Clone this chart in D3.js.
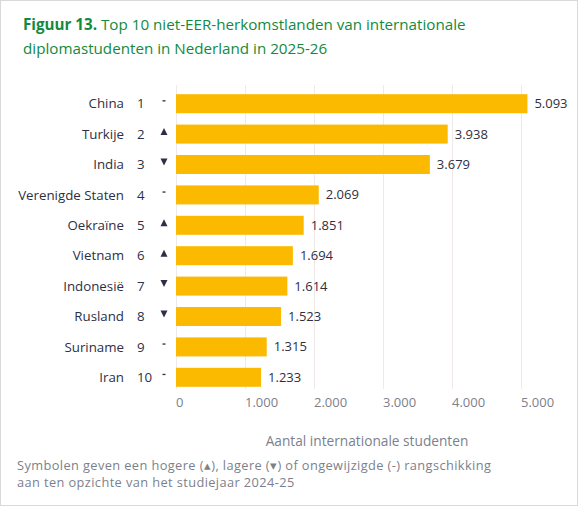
<!DOCTYPE html>
<html>
<head>
<meta charset="utf-8">
<script src="https://cdn.jsdelivr.net/npm/d3@7"></script>
<style>
  body { margin: 0; background: #fff; }
  svg { display: block; font-family: "Open Sans", "Noto Sans", sans-serif; }
</style>
</head>
<body>
<svg id="chart" width="578" height="507"></svg>
<script>
// data
var countries = ["China", "Turkije", "India", "Verenigde Staten", "Oekraïne", "Vietnam", "Indonesië", "Rusland", "Suriname", "Iran"];
var ranks = [1, 2, 3, 4, 5, 6, 7, 8, 9, 10];
var changes = ["-", "up", "down", "-", "up", "up", "down", "down", "-", "-"];
var students = [5093, 3938, 3679, 2069, 1851, 1694, 1614, 1523, 1315, 1233];
var ticks = [0, 1000, 2000, 3000, 4000, 5000];

var svg = d3.select("#chart");
var green = "#138a3d", ink = "#2d2f45", grey = "#7d7f8c";
var fmt = function (d) { return d3.format(",")(d).replace(/,/g, "."); };

// frame
svg.append("rect")
  .attr("x", 0.5).attr("y", 0.5)
  .attr("width", 577).attr("height", 505)
  .attr("fill", "none")
  .attr("stroke", "#d9d9d9");

// title
var title = svg.append("text")
  .attr("x", 23).attr("y", 30)
  .attr("font-size", "15.2px")
  .attr("fill", green);
title.append("tspan").attr("font-weight", "bold").text("Figuur 13.");
title.append("tspan").text(" Top 10 niet-EER-herkomstlanden van internationale");
svg.append("text")
  .attr("x", 23).attr("y", 54)
  .attr("font-size", "15.2px")
  .attr("fill", green)
  .text("diplomastudenten in Nederland in 2025-26");

var x = d3.scaleLinear()
  .domain([0, 5000])
  .range([176, 521]);

var y = d3.scaleBand()
  .domain(countries)
  .range([88.5, 392.5])
  .paddingInner(0.375)
  .paddingOuter(0.1875);

// gridlines
svg.append("g").selectAll("line")
  .data(ticks)
  .enter().append("line")
  .attr("x1", function (d) { return x(d) + 0.5; })
  .attr("x2", function (d) { return x(d) + 0.5; })
  .attr("y1", 85)
  .attr("y2", 389)
  .attr("stroke", "#f0e9e7")
  .attr("stroke-width", 1);

// tick labels (left aligned at the gridline)
svg.append("g").selectAll("text")
  .data(ticks)
  .enter().append("text")
  .attr("x", function (d) { return x(d); })
  .attr("y", 407)
  .attr("font-size", "13px")
  .attr("fill", grey)
  .text(fmt);

// bars
svg.append("g").selectAll("rect")
  .data(students)
  .enter().append("rect")
  .attr("x", x(0))
  .attr("y", function (d, i) { return y(countries[i]); })
  .attr("width", function (d) { return x(d) - x(0); })
  .attr("height", y.bandwidth())
  .attr("fill", "#fbba00");

// value labels
svg.append("g").selectAll("text")
  .data(students)
  .enter().append("text")
  .attr("x", function (d) { return x(d) + 7; })
  .attr("y", function (d, i) { return y(countries[i]) + y.bandwidth() / 2; })
  .attr("dy", "0.35em")
  .attr("font-size", "13px")
  .attr("fill", ink)
  .text(fmt);

// country names
svg.append("g").selectAll("text")
  .data(countries)
  .enter().append("text")
  .attr("x", 124)
  .attr("y", function (d) { return y(d) + y.bandwidth() / 2; })
  .attr("dy", "0.35em")
  .attr("text-anchor", "end")
  .attr("font-size", "13.3px")
  .attr("fill", ink)
  .text(function (d) { return d; });

// ranks
svg.append("g").selectAll("text")
  .data(ranks)
  .enter().append("text")
  .attr("x", 137)
  .attr("y", function (d, i) { return y(countries[i]) + y.bandwidth() / 2; })
  .attr("dy", "0.35em")
  .attr("font-size", "13.3px")
  .attr("fill", ink)
  .text(function (d) { return d; });

// change symbols
var sym = svg.append("g").selectAll("g")
  .data(changes)
  .enter().append("g")
  .attr("transform", function (d, i) {
    return "translate(164," + (y(countries[i]) + y.bandwidth() / 2) + ")";
  });

sym.filter(function (d) { return d === "-"; })
  .append("rect")
  .attr("x", -1.5).attr("y", -3.5)
  .attr("width", 3).attr("height", 1.3)
  .attr("fill", ink);

sym.filter(function (d) { return d === "up"; })
  .append("path")
  .attr("d", "M-3.5,2L3.5,2L0,-5Z")
  .attr("transform", "translate(0,-1)")
  .attr("fill", ink);

sym.filter(function (d) { return d === "down"; })
  .append("path")
  .attr("d", "M-3.5,-5L3.5,-5L0,2Z")
  .attr("transform", "translate(0,-1)")
  .attr("fill", ink);

// axis title
svg.append("text")
  .attr("x", 367)
  .attr("y", 446)
  .attr("text-anchor", "middle")
  .attr("font-size", "13.7px")
  .attr("fill", grey)
  .text("Aantal internationale studenten");

// footnote
svg.append("text")
  .attr("x", 17).attr("y", 469.5)
  .attr("font-size", "12.8px")
  .attr("letter-spacing", "0.4px")
  .attr("fill", grey)
  .text("Symbolen geven een hogere (\u25B4), lagere (\u25BE) of ongewijzigde (-) rangschikking");
svg.append("text")
  .attr("x", 17).attr("y", 487)
  .attr("font-size", "12.8px")
  .attr("letter-spacing", "0.4px")
  .attr("fill", grey)
  .text("aan ten opzichte van het studiejaar 2024-25");
</script>
</body>
</html>
